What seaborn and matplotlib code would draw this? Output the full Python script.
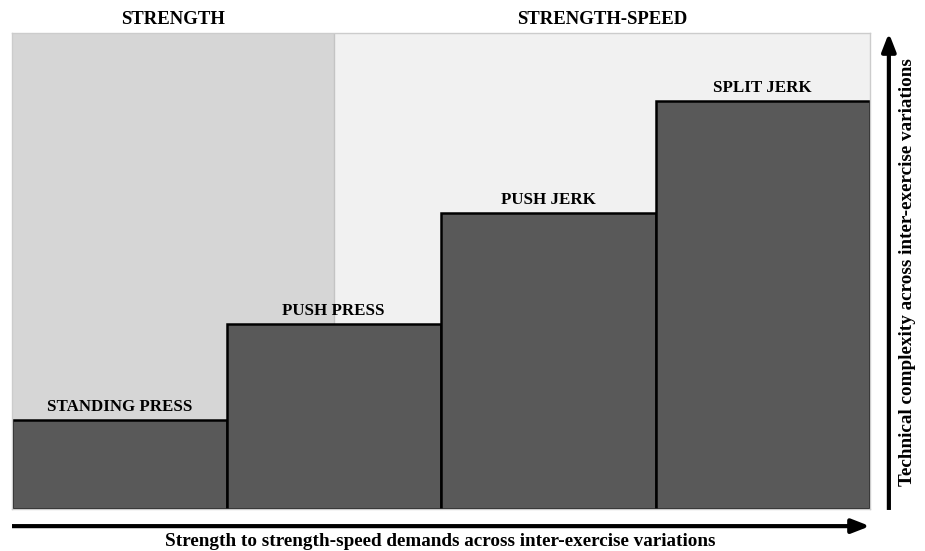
import numpy as np
import pandas as pd
import matplotlib
matplotlib.use("Agg")
import matplotlib.pyplot as plt
import seaborn as sns

exercises = ["STANDING PRESS", "PUSH PRESS", "PUSH JERK", "SPLIT JERK"]
complexity = [18.7, 38.9, 62.2, 85.7]
zones = ["STRENGTH", "STRENGTH-SPEED"]
zone_split = 1.0
x_label = "Strength to strength-speed demands across inter-exercise variations"
y_label = "Technical complexity across inter-exercise variations"

sns.set_theme(style="white")
plt.rcParams["font.family"] = ["Liberation Serif", "DejaVu Serif"]
plt.rcParams["font.weight"] = "bold"
plt.rcParams["text.color"] = "black"

df = pd.DataFrame({"exercise": exercises, "complexity": complexity})

fig = plt.figure(figsize=(9.25, 5.51), dpi=100)
ax = fig.add_axes([12 / 925, 42 / 551, 858 / 925, 476 / 551])

x_lo, x_hi = -0.5, len(exercises) - 0.5
ax.axvspan(x_lo, zone_split, color="#d6d6d6", zorder=0, lw=0)
ax.axvspan(zone_split, x_hi, color="#f1f1f1", zorder=0, lw=0)
ax.axvline(zone_split, color="#c4c4c4", lw=1, zorder=0.5)

sns.barplot(data=df, x="exercise", y="complexity", color="#595959",
            edgecolor="black", linewidth=1.8, width=1.0, saturation=1,
            ax=ax, zorder=2)

ax.set_xlim(x_lo, x_hi)
ax.set_ylim(0, 100)
ax.set_xticks([])
ax.set_yticks([])
ax.set_xlabel("")
ax.set_ylabel("")
for s in ax.spines.values():
    s.set_color("#cccccc")
    s.set_linewidth(1)

for i, v in enumerate(complexity):
    ax.text(i, v + 1.0, exercises[i], ha="center", va="bottom",
            fontsize=12.2, fontweight="bold", color="black")

# zone titles above the plot
ax.text((x_lo + zone_split) / 2, 102.8, zones[0], ha="center", va="center",
        fontsize=13.5, fontweight="bold", clip_on=False)
ax.text((zone_split + x_hi) / 2, 102.8, zones[1], ha="center", va="center",
        fontsize=13.5, fontweight="bold", clip_on=False)

# arrows
arrow = dict(arrowstyle="-|>,head_length=0.9,head_width=0.35",
             color="black", lw=3, shrinkA=0, shrinkB=0, capstyle="butt")
ax.annotate("", xy=(1.0, -0.036), xytext=(0.0, -0.036), xycoords="axes fraction",
            arrowprops=arrow, annotation_clip=False)
ax.annotate("", xy=(1.022, 1.0), xytext=(1.022, -0.002), xycoords="axes fraction",
            arrowprops=arrow, annotation_clip=False)

fig.text(440 / 925, 1 - 541 / 551, x_label, ha="center", va="center",
         fontsize=13.8, fontweight="bold")
fig.text(908 / 925, 1 - 272 / 551, y_label, ha="center", va="center",
         rotation=90, fontsize=13.8, fontweight="bold")

fig.savefig("out.png", dpi=100)
